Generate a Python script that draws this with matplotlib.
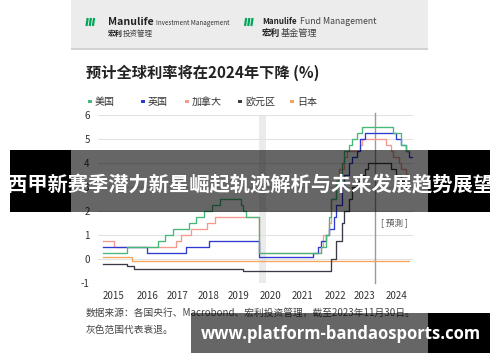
import matplotlib
matplotlib.use("Agg")
import matplotlib.pyplot as plt
from matplotlib.patches import Rectangle

plt.rcParams['font.family'] = ['Noto Sans CJK SC', 'DejaVu Sans']

# ---------------- data ----------------
series_names = ["美国", "英国", "加拿大", "欧元区", "日本"]
series_colors = ["#45b97a", "#2d3bd3", "#f49a8e", "#3a3a48", "#f4a45c"]

us_dates = ["2015-03", "2015-12", "2016-12", "2017-03", "2017-06", "2017-12", "2018-03", "2018-06",
            "2018-09", "2018-12", "2019-08", "2019-09", "2019-10", "2020-03", "2022-03", "2022-05",
            "2022-06", "2022-07", "2022-09", "2022-11", "2022-12", "2023-02", "2023-03", "2023-05",
            "2023-07", "2024-07", "2024-10", "2024-12", "2025-01"]
us_rates = [0.25, 0.5, 0.75, 1.0, 1.25, 1.5, 1.75, 2.0,
            2.25, 2.5, 2.25, 2.0, 1.75, 0.25, 0.5, 1.0,
            1.75, 2.5, 3.25, 4.0, 4.5, 4.75, 5.0, 5.25,
            5.5, 5.25, 4.75, 4.5, 4.5]

uk_dates = ["2015-03", "2016-08", "2017-11", "2018-08", "2020-03", "2021-12", "2022-02", "2022-03",
            "2022-05", "2022-06", "2022-08", "2022-09", "2022-11", "2022-12", "2023-02", "2023-03",
            "2023-05", "2023-06", "2023-08", "2024-08", "2024-10", "2024-12", "2025-01", "2025-02"]
uk_rates = [0.5, 0.25, 0.5, 0.75, 0.1, 0.25, 0.5, 0.75,
            1.0, 1.25, 1.75, 2.25, 3.0, 3.5, 4.0, 4.25,
            4.5, 5.0, 5.25, 5.0, 4.75, 4.5, 4.25, 4.25]

ca_dates = ["2015-03", "2015-07", "2017-07", "2017-09", "2018-01", "2018-07", "2018-10", "2020-03",
            "2022-03", "2022-04", "2022-06", "2022-07", "2022-09", "2022-10", "2022-12", "2023-01",
            "2023-06", "2023-07", "2024-04", "2024-06", "2024-07", "2024-09", "2024-10", "2024-12",
            "2025-01"]
ca_rates = [0.75, 0.5, 0.75, 1.0, 1.25, 1.5, 1.75, 0.25,
            0.5, 1.0, 1.5, 2.5, 3.25, 3.75, 4.25, 4.5,
            4.75, 5.0, 4.75, 4.5, 4.25, 4.0, 3.75, 3.5,
            3.5]

eu_dates = ["2015-03", "2015-12", "2016-03", "2019-09", "2022-07", "2022-09", "2022-11", "2022-12",
            "2023-02", "2023-03", "2023-05", "2023-06", "2023-08", "2023-09", "2024-06", "2024-08",
            "2024-10", "2024-12", "2025-01"]
eu_rates = [-0.2, -0.3, -0.4, -0.5, 0.0, 0.75, 1.5, 2.0,
            2.5, 3.0, 3.25, 3.5, 3.75, 4.0, 3.75, 3.5,
            3.25, 3.0, 3.0]

jp_dates = ["2015-03", "2016-02", "2025-01"]
jp_rates = [0.1, -0.1, -0.1]

year_labels = ["2015", "2016", "2017", "2018", "2019", "2020", "2021", "2022", "2023", "2024"]
year_label_pos = [2015.5, 2016.58, 2017.57, 2018.57, 2019.53, 2020.56, 2021.59, 2022.65, 2023.58, 2024.6]
y_ticks = [-1, 0, 1, 2, 3, 4, 5, 6]
recession = ("2020-03", "2020-06")
forecast_start = "2023-12"


def dec(s):
    y, m = s.split("-")
    return int(y) + (int(m) - 1) / 12.0


all_series = [(us_dates, us_rates), (uk_dates, uk_rates), (ca_dates, ca_rates),
              (eu_dates, eu_rates), (jp_dates, jp_rates)]

# ---------------- figure ----------------
W, H = 500, 362
fig = plt.figure(figsize=(W / 100, H / 100), dpi=100)
fig.patch.set_facecolor("white")

# background decoration axes (pixel coords)
bg = fig.add_axes([0, 0, 1, 1], zorder=0)
bg.set_xlim(0, W)
bg.set_ylim(H, 0)
bg.axis("off")

# header
bg.add_patch(Rectangle((71, 0), 357, 48, facecolor="#ececec", edgecolor="none"))
bg.add_patch(Rectangle((71, 48), 357, 1.5, facecolor="#d2d2d2", edgecolor="none"))
logo_green = "#00a758"
for lx in (86.5, 245):
    for k in range(3):
        bg.plot([lx + k * 3.2, lx + k * 3.2 + 1.2], [26, 18], color=logo_green, lw=1.6,
                solid_capstyle="butt")
bg.text(108, 22, "Manulife", fontsize=7.6, fontweight="bold", color="#222", va="center", ha="left")
bg.text(156, 23, "Investment Management", fontsize=4.5, color="#333", va="center", ha="left")
bg.text(108, 33.5, "宏利", fontsize=5.4, fontweight="bold", color="#222", va="center", ha="left")
bg.text(123, 33.5, "投资管理", fontsize=5.4, color="#444", va="center", ha="left")
bg.text(262, 22, "Manulife", fontsize=5.8, fontweight="bold", color="#222", va="center", ha="left")
bg.text(300.5, 22, "Fund Management", fontsize=6.3, color="#444", va="center", ha="left")
bg.text(262, 33.5, "宏利", fontsize=6.6, fontweight="bold", color="#222", va="center", ha="left")
bg.text(280.5, 33.5, "基金管理", fontsize=6.6, color="#444", va="center", ha="left")

# title
bg.text(86, 73, "预计全球利率将在2024年下降 (%)", fontsize=11, fontweight="bold",
        color="#222", va="center", ha="left")

# legend
leg_x = [90, 143, 187, 240, 292]
for name, col, lx in zip(series_names, series_colors, leg_x):
    bg.add_patch(Rectangle((lx - 1.6, 100.2), 3.2, 3.2, facecolor=col, edgecolor="none"))
    bg.text(lx + 5, 101.7, name, fontsize=7.2, color="#333", va="center", ha="left")

# footnote
bg.text(86, 313, "数据来源：各国央行、Macrobond、宏利投资管理，截至2023年11月30日。",
        fontsize=7.0, color="#444", va="center", ha="left")
bg.text(86, 330, "灰色范围代表衰退。", fontsize=7.0, color="#444", va="center", ha="left")

# ---------------- chart ----------------
x0, x1 = 98, 413
y_top, y_bot = 115, 283
ax = fig.add_axes([x0 / W, (H - y_bot) / H, (x1 - x0) / W, (y_bot - y_top) / H], zorder=1)
ax.patch.set_alpha(0)
ax.set_xlim(2015.0, 2015.0 + (x1 - x0) / 31.1)
ax.set_ylim(-1, 6)
for sp in ax.spines.values():
    sp.set_visible(False)
ax.set_yticks(y_ticks)
ax.set_yticklabels([str(v) for v in y_ticks], fontsize=7, color="#333")
ax.set_xticks(year_label_pos)
ax.set_xticklabels(year_labels, fontsize=7, color="#333")
ax.tick_params(length=0, pad=6)
ax.grid(axis="y", color="#e2e2e2", lw=0.8)
ax.set_axisbelow(True)

ax.axvspan(dec(recession[0]), dec(recession[1]), color="#ebebeb", lw=0, zorder=0.5)
ax.axvline(dec(forecast_start), ymin=0, ymax=1.01, color="#9a9a9a", lw=1.0, zorder=1, clip_on=False)
ax.text(2024.52, 1.5, "[ 預測 ]", fontsize=6.2, color="#555", ha="center", va="center")

order = [4, 3, 2, 1, 0]
for i in order:
    d, r = all_series[i]
    ax.plot([dec(s) for s in d], r, drawstyle="steps-post", color=series_colors[i], lw=0.95,
            zorder=2 + (4 - i) * 0.01)

# ---------------- foreground overlays ----------------
fg = fig.add_axes([0, 0, 1, 1], zorder=3)
fg.set_xlim(0, W)
fg.set_ylim(H, 0)
fg.axis("off")
fg.patch.set_alpha(0)

# banner
fg.add_patch(Rectangle((10, 150), 61, 62, facecolor="black", edgecolor="none"))
fg.add_patch(Rectangle((428, 150), 62, 62, facecolor="black", edgecolor="none"))
fg.add_patch(Rectangle((71, 150), 357, 62, facecolor="black", alpha=0.6, edgecolor="none"))
fg.text(250, 185, "西甲新赛季潜力新星崛起轨迹解析与未来发展趋势展望", fontsize=14.6,
        fontweight="bold", color="white", ha="center", va="center")

# watermark
fg.add_patch(Rectangle((191, 313), 237, 40, facecolor="black", alpha=0.6, edgecolor="none"))
fg.add_patch(Rectangle((428, 313), 62, 40, facecolor="black", edgecolor="none"))
fg.text(341, 334, "www.platform-bandaosports.com", fontsize=12.0, fontweight="bold",
        color="white", ha="center", va="center", family=["Open Sans", "DejaVu Sans"])

fig.savefig("out.png", dpi=100)
